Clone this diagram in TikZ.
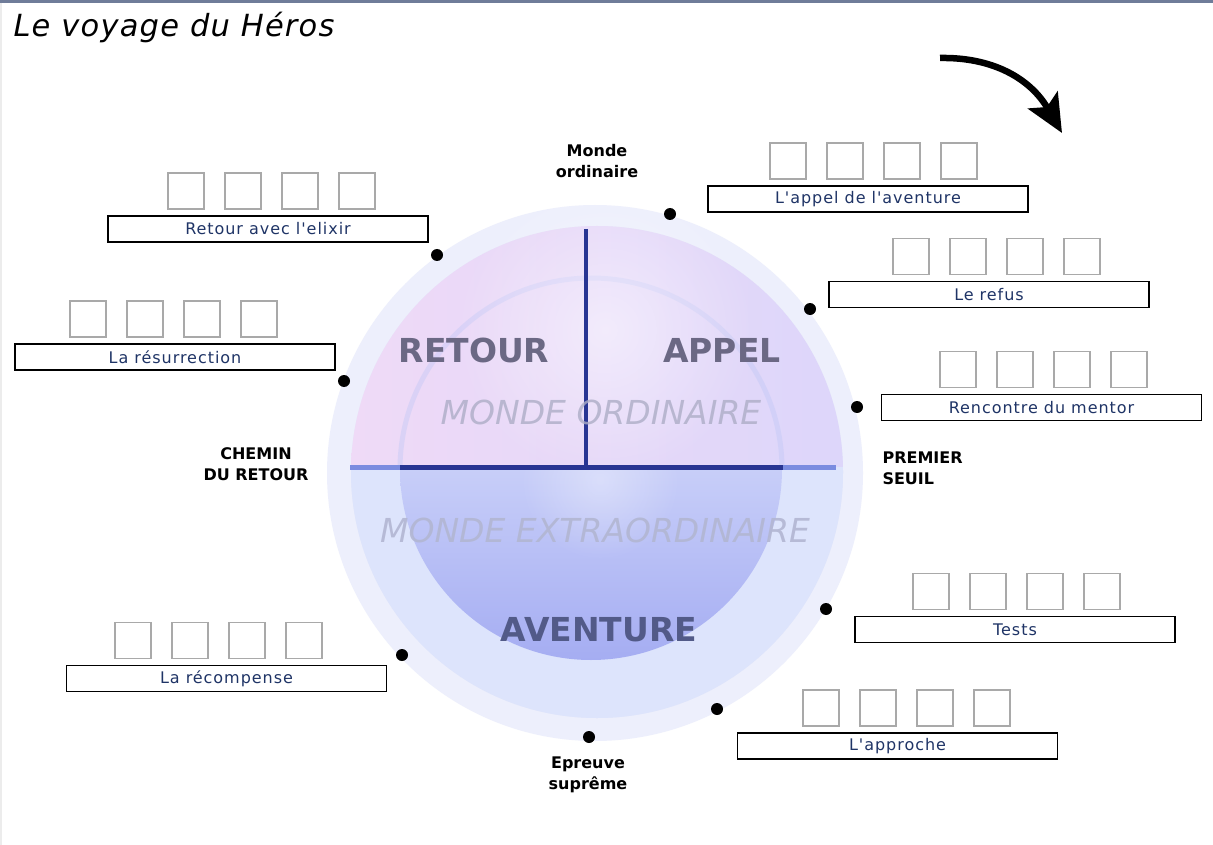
\documentclass[tikz,border=0pt]{standalone}
\usepackage{fontspec}
\setmainfont{DejaVu Sans}
\newfontfamily\boitefont[LetterSpace=6]{DejaVu Sans}
\newfontfamily\titrefont[LetterSpace=4]{DejaVu Sans}
\usetikzlibrary{arrows.meta,fadings}
\tikzfading[name=lueur, inner color=transparent!0, outer color=transparent!100]

\definecolor{bordure}{HTML}{6F7C99}
\definecolor{halo}{HTML}{EDEFFC}
\definecolor{anneau}{HTML}{E4E7FB}
\definecolor{rose}{HTML}{EFDAF7}
\definecolor{lavande}{HTML}{DDD6FA}
\definecolor{bleuclair}{HTML}{DDE4FC}
\definecolor{bleupale}{HTML}{EAEFFF}
\definecolor{bleusphere}{HTML}{A5ADF2}
\definecolor{bord sphere}{HTML}{BFC6F6}
\definecolor{marine}{HTML}{283593}
\definecolor{trait}{HTML}{7B8CE0}
\definecolor{encre}{HTML}{1F3466}
\definecolor{grisviolet}{HTML}{6B6884}
\definecolor{grisbleu}{HTML}{525A88}
\definecolor{brume}{HTML}{ADADC6}
\definecolor{brume claire}{HTML}{B2B6D2}
\definecolor{grisclair}{HTML}{A9A9A9}

\tikzset{
	etiquette/.style={draw=black, line width=1.6pt, fill=white, minimum width=320pt, minimum height=26pt, inner sep=0pt, font=\boitefont\fontsize{16}{18}\selectfont, text=encre},
	case/.style={draw=grisclair, line width=1.3pt},
	point/.style={circle, fill=black, inner sep=0pt, minimum size=12pt},
	repere/.style={font=\bfseries\fontsize{16}{21}\selectfont, align=center},
	grand/.style={font=\bfseries\fontsize{33}{40}\selectfont},
	monde/.style={font=\itshape\fontsize{33}{40}\selectfont},
	fleche/.style={line width=6.5pt, -{Stealth[length=38pt,width=34pt,inset=8pt]}},
}

% boite + 4 cases : nom, x, y, x premiere case, texte
\newcommand{\etape}[5]{%
	\node[etiquette] (#1) at (#2,#3) {#5};
	\foreach \i in {0,...,3}
		\draw[case] ({#4+57*\i},{#3-56}) rectangle ++(36,36);
}

\begin{document}
\begin{tikzpicture}[x=1pt,y=-1pt]
	\useasboundingbox (0,0) rectangle (1213,845);
	\fill[white] (0,0) rectangle (1213,845);
	\fill[bordure] (0,0) rectangle (1213,3);
	\draw[gray!15, line width=2pt] (1,3) -- (1,845);

	% titre
	\node[anchor=base west, font=\titrefont\itshape\fontsize{30.5}{34}\selectfont] (titre) at (10,37) {Le voyage du Héros};

	% le cercle
	\fill[halo] (595,473) circle (268);
	\fill[anneau] (597,472) circle (246);
	\begin{scope}
		\clip (300,150) rectangle (900,467);
		\shade[left color=rose, right color=lavande] (597,472) circle (246);
		\draw[bord sphere, line width=5pt, opacity=.4] (591,469) circle (191);
		\fill[white, path fading=lueur, fill opacity=.5] (605,330) circle (150);
	\end{scope}
	\begin{scope}
		\clip (300,467) rectangle (900,800);
		\fill[bleuclair] (597,472) circle (246);
		\shade[top color=bleupale, bottom color=bleusphere] (591,469) circle (191);
		\fill[white, path fading=lueur, fill opacity=.35] (600,480) circle (80);
	\end{scope}

	% les deux mondes
	\draw[trait, line width=5pt] (350,467) -- (836,467);
	\draw[marine, line width=5pt] (400,467) -- (783,467);
	\draw[marine, line width=4pt] (586,229) -- (586,467);

	\node[grand, text=grisviolet] (tRetour) at (474,350) {RETOUR};
	\node[grand, text=grisviolet] (tAppel) at (722,350) {APPEL};
	\node[grand, text=grisbleu] (tAventure) at (599,630) {AVENTURE};
	\node[monde, text=brume, opacity=.8] (tOrdinaire) at (601,412) {MONDE ORDINAIRE};
	\node[monde, text=brume claire, opacity=.9] (tExtra) at (595,530) {MONDE EXTRAORDINAIRE};

	% les points
	\node[point] (d1) at (670,214) {};
	\node[point] (d2) at (810,309) {};
	\node[point] (d3) at (857,407) {};
	\node[point] (d4) at (826,609) {};
	\node[point] (d5) at (717,709) {};
	\node[point] (d6) at (589,737) {};
	\node[point] (d7) at (402,655) {};
	\node[point] (d8) at (344,381) {};
	\node[point] (d9) at (437,255) {};

	\node[repere] (monde) at (597,161) {Monde\\ordinaire};
	\node[repere] (chemin) at (256,464) {CHEMIN\\DU RETOUR};
	\node[repere, align=left, anchor=west] (seuil) at (879,468) {PREMIER\\SEUIL};
	\node[repere] (epreuve) at (588,775) {Epreuve\\suprême};

	% les etapes
	\etape{lappel}{868}{199}{770}{L'appel de l'aventure}
	\etape{refus}{989}{294.5}{893}{Le refus}
	\etape{mentor}{1041.5}{407.5}{940}{Rencontre du mentor}
	\etape{tests}{1015}{629.5}{913}{Tests}
	\etape{approche}{897.5}{746}{803}{L'approche}
	\etape{recompense}{226.5}{678.5}{115}{La récompense}
	\etape{resurrection}{175}{357}{70}{La résurrection}
	\etape{elixir}{268}{229}{168}{Retour avec l'elixir}

	% sens de lecture
	\coordinate (depart) at (940,58);
	\coordinate (fin) at (1062,133);
	\draw[fleche] (depart) .. controls (992,57) and (1030,78) .. (fin);
\end{tikzpicture}
\end{document}
